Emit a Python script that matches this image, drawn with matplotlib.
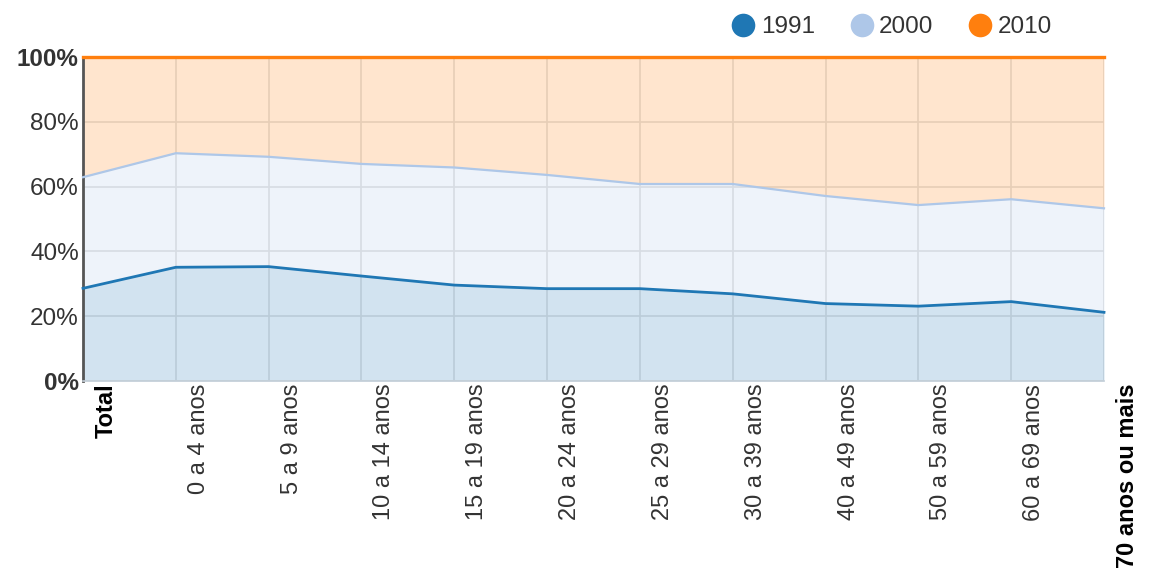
import numpy as np
import matplotlib.pyplot as plt
from matplotlib.lines import Line2D
from matplotlib.transforms import ScaledTranslation

plt.rcParams['font.family'] = ['Liberation Sans', 'DejaVu Sans']

# age groups and percentage share of each census year (stacked to 100%)
groups = ['Total', '0 a 4 anos', '5 a 9 anos', '10 a 14 anos', '15 a 19 anos',
          '20 a 24 anos', '25 a 29 anos', '30 a 39 anos', '40 a 49 anos',
          '50 a 59 anos', '60 a 69 anos', '70 anos ou mais']
years = ['1991', '2000', '2010']
share_1991 = [28.6, 35.1, 35.3, 32.4, 29.6, 28.5, 28.5, 26.9, 23.9, 23.1, 24.5, 21.2]
share_2000 = [34.3, 35.2, 33.9, 34.6, 36.3, 35.1, 32.3, 33.9, 33.2, 31.2, 31.6, 32.1]
share_2010 = [37.1, 29.7, 30.8, 33.0, 34.1, 36.4, 39.2, 39.2, 42.9, 45.7, 43.9, 46.7]

colors = ['#1f77b4', '#aec7e8', '#ff7f0e']
widths = [2.0, 1.6, 2.4]

fig = plt.figure(figsize=(11.51, 5.70), dpi=100)
ax = fig.add_axes([83/1151, 1-381/570, (1104-83)/1151, (381-57)/570])

x = np.arange(len(groups))
data = np.array([share_1991, share_2000, share_2010])
cum = np.cumsum(data, axis=0)
cum = cum / cum[-1] * 100
base = np.zeros(len(groups))
for i, yr in enumerate(years):
    ax.fill_between(x, base, cum[i], color=colors[i], alpha=0.2, lw=0, zorder=2)
    ax.plot(x, cum[i], color=colors[i], lw=widths[i], zorder=3, clip_on=False)
    base = cum[i]

ax.set_xlim(0, len(groups) - 1)
ax.set_ylim(0, 100)
ax.set_yticks([0, 20, 40, 60, 80, 100])
ax.set_yticklabels(['0%', '20%', '40%', '60%', '80%', '100%'])
ax.set_xticks(x)
ax.set_xticklabels(groups, rotation=90, va='top', ha='center')
ax.grid(True, color='#e2e2e2', lw=1.2, zorder=1)
ax.set_axisbelow(True)
ax.tick_params(length=0, colors='#333333')
ax.tick_params(axis='x', labelsize=17, pad=2)
ax.tick_params(axis='y', labelsize=17.5, pad=3)

off = ScaledTranslation(0.23, 0, fig.dpi_scale_trans)
for i, lab in enumerate(ax.get_xticklabels()):
    lab.set_transform(lab.get_transform() + off)
    if i in (0, len(groups) - 1):
        lab.set_fontweight('bold')
        lab.set_color('black')
ylabs = ax.get_yticklabels()
ylabs[0].set_fontweight('bold')
ylabs[-1].set_fontweight('bold')

for s in ['top', 'right']:
    ax.spines[s].set_visible(False)
ax.spines['left'].set_color('#555555')
ax.spines['left'].set_linewidth(2)
ax.spines['bottom'].set_color('#c5cfd8')
ax.spines['bottom'].set_linewidth(1.2)

handles = [Line2D([], [], marker='o', ls='none', markersize=17, color=c, markeredgewidth=0)
           for c in colors]
fig.legend(handles, years, loc='center right', bbox_to_anchor=(1062/1151, 1-27/570),
           ncol=3, frameon=False, fontsize=17.5, handlelength=1.05, handletextpad=0.2,
           columnspacing=1.4, labelcolor='#333333', borderaxespad=0)

fig.savefig('out.png', dpi=100)
